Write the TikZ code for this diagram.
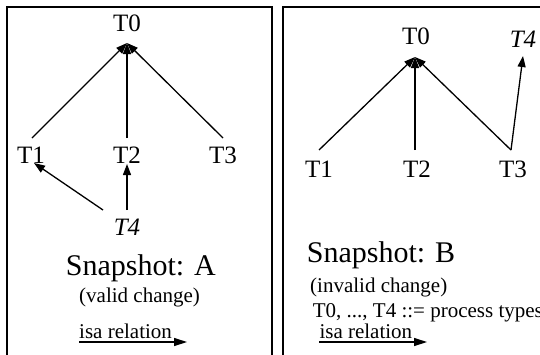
\documentclass[tikz,border=0pt]{standalone}
\usepackage{fontspec}
\setmainfont{Liberation Serif}
\usetikzlibrary{arrows.meta}
\begin{document}
\begin{tikzpicture}[x=1pt,y=-1pt,
  panel/.style={draw=black, line width=2pt},
  tlbl/.style={font=\fontsize{25}{25}\selectfont, inner sep=0pt, anchor=base},
  big/.style={font=\fontsize{30}{30}\selectfont, inner sep=0pt, anchor=base west},
  small/.style={font=\fontsize{21}{21}\selectfont, inner sep=0pt, anchor=base west},
  isa/.style={draw=black, line width=1.3pt, -{Triangle[length=11pt,width=8pt]}},
  legend/.style={draw=black, line width=1.3pt, -{Triangle[length=13pt,width=8pt]}}]
\useasboundingbox (0,0) rectangle (540,354);
\clip (0,0) rectangle (540,354);
% panels
\draw[panel] (7,360) -- (7,6.5) -- (271.5,6.5) -- (271.5,360);
\draw[panel] (283,360) -- (283,6.5) -- (550,6.5);
% ---- Snapshot A ----
\node[tlbl] (a0) at (127,31.5) {T0};
\node[tlbl] (a1) at (31,163) {T1};
\node[tlbl] (a2) at (127,163) {T2};
\node[tlbl] (a3) at (223,163) {T3};
\node[tlbl, font=\fontsize{25}{25}\selectfont\itshape] (a4) at (127,235) {T4};
\coordinate (a0in) at (127,43);
\coordinate (a1out) at (32,138);
\coordinate (a2out) at (127,138);
\coordinate (a3out) at (223,138);
\coordinate (a1in) at (34,163);
\coordinate (a2in) at (127,164);
\coordinate (a4l) at (103,210);
\coordinate (a4u) at (127,210);
\draw[isa] (a1out) -- (a0in);
\draw[isa] (a2out) -- (a0in);
\draw[isa] (a3out) -- (a0in);
\draw[isa] (a4l) -- (a1in);
\draw[isa] (a4u) -- (a2in);
\node[big] (snapA) at (65.7,275) {Snapshot: A};
\node[small] (validA) at (79,302) {(valid change)};
\node[small] (isaA) at (79,338) {isa relation};
\coordinate (isaAs) at (79,342);
\coordinate (isaAe) at (187,342);
\draw[legend] (isaAs) -- (isaAe);
% ---- Snapshot B ----
\node[tlbl] (b0) at (416,44) {T0};
\node[tlbl] (b1) at (319,177) {T1};
\node[tlbl] (b2) at (417,177) {T2};
\node[tlbl] (b3) at (513,177) {T3};
\node[tlbl, font=\fontsize{25}{25}\selectfont\itshape] (b4) at (523,47) {T4};
\coordinate (b0in) at (415,57);
\coordinate (b1out) at (319,150);
\coordinate (b2out) at (415,150);
\coordinate (b3out) at (511,150);
\coordinate (b4in) at (523,56);
\draw[isa] (b1out) -- (b0in);
\draw[isa] (b2out) -- (b0in);
\draw[isa] (b3out) -- (b0in);
\draw[isa] (b3out) -- (b4in);
\node[big] (snapB) at (306.7,262) {Snapshot: B};
\node[small] (invalidB) at (310,292) {(invalid change)};
\node[small] (defB) at (312.7,317) {T0, ..., T4 ::= process types};
\node[small] (isaB) at (319.3,338) {isa relation};
\coordinate (isaBs) at (319.3,342);
\coordinate (isaBe) at (427,342);
\draw[legend] (isaBs) -- (isaBe);
\end{tikzpicture}
\end{document}
